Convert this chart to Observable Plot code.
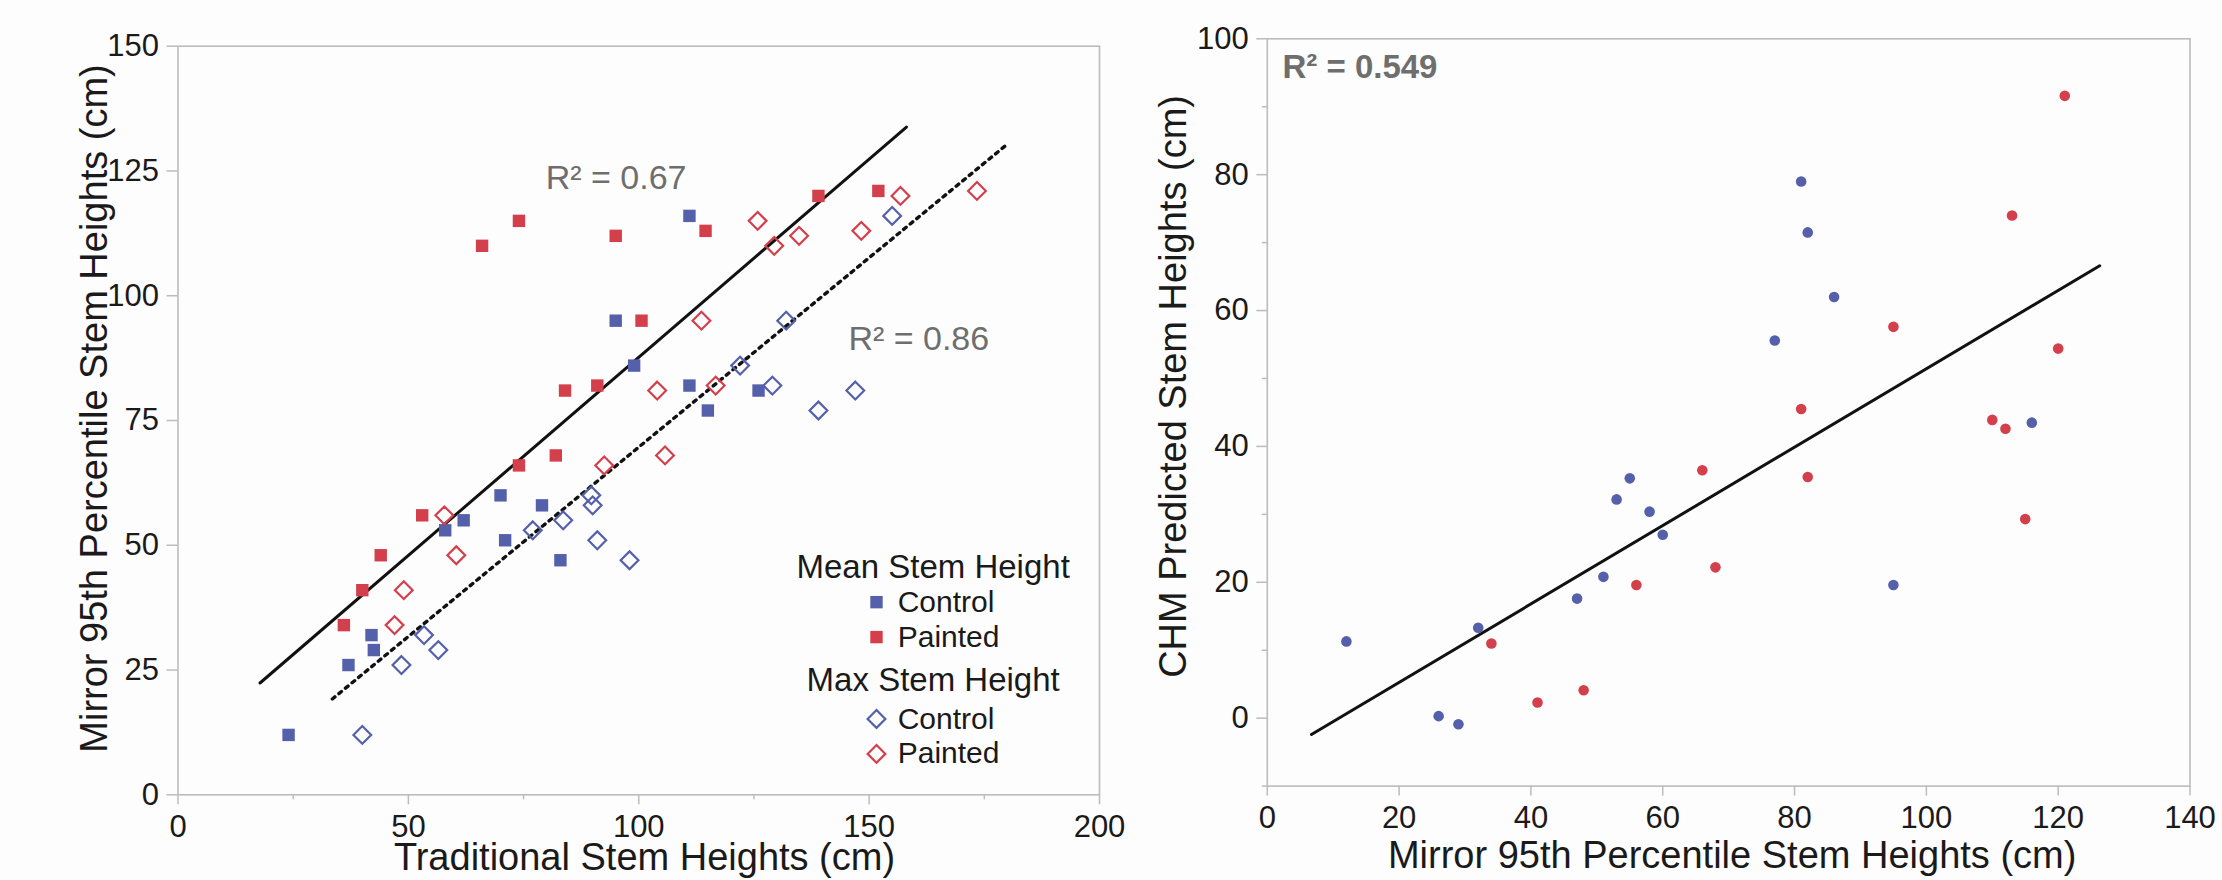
<!DOCTYPE html>
<html><head><meta charset="utf-8">
<script src="https://cdn.jsdelivr.net/npm/d3@7"></script>
<script src="https://cdn.jsdelivr.net/npm/@observablehq/plot@0.6"></script>
<style>
html,body{margin:0;padding:0;background:#fefdfd;}
#fig{position:relative;width:2222px;height:880px;overflow:hidden;background:#fefdfd;}
#left{position:absolute;left:0;top:0;}
#right{position:absolute;left:1130px;top:0;}
</style></head><body>
<div id="fig"><div id="left"></div><div id="right"></div></div>
<script>
// ---------- Left panel data: Traditional (x) vs Mirror 95th percentile (y) ----------
const meanControlTrad   = [24, 37, 42, 42.5, 58, 62, 70, 71, 79, 83, 95, 99, 111, 111, 115, 126];
const meanControlMirror = [12, 26, 32, 29, 53, 55, 60, 51, 58, 47, 95, 86, 116, 82, 77, 81];
const meanPaintedTrad   = [36, 40, 44, 53, 66, 74, 74, 82, 84, 91, 95, 100.6, 114.5, 139, 152];
const meanPaintedMirror = [34, 41, 48, 56, 110, 115, 66, 68, 81, 82, 112, 95, 113, 120, 121];
const maxControlTrad    = [40, 48.5, 53.4, 56.5, 77, 83.6, 89.7, 91, 90, 98, 132, 122, 155, 129, 139, 147];
const maxControlMirror  = meanControlMirror;
const maxPaintedTrad    = [47, 49, 60.4, 57.8, 129.4, 125.8, 92.5, 105.7, 104, 116.7, 134.8, 113.6, 148.3, 156.8, 173.4];
const maxPaintedMirror  = meanPaintedMirror;
// trend line end points (data units)
const meanFitX = [17.8, 158.1], meanFitY = [22.4, 133.8];
const maxFitX  = [33.5, 179.9], maxFitY  = [19.2, 130.3];
const leftXTicks = [0, 50, 100, 150, 200];
const leftXMinor = [25, 75, 125, 175];
const leftYTicks = [0, 25, 50, 75, 100, 125, 150];
const r2Mean = "R² = 0.67", r2Max = "R² = 0.86";
const legendHeaders = ["Mean Stem Height", "Max Stem Height"];
const legendItems = ["Control", "Painted"];

// ---------- Right panel data: Mirror (x) vs CHM predicted (y) ----------
const controlMirror = [12, 26, 29, 32, 47, 51, 53, 55, 58, 60, 77, 81, 82, 86, 95, 116];
const controlCHM    = [11.3, 0.3, -0.9, 13.3, 17.6, 20.8, 32.2, 35.3, 30.4, 27, 55.6, 79, 71.5, 62, 19.6, 43.5];
const paintedMirror = [34, 41, 48, 56, 66, 68, 81, 82, 95, 110, 112, 113, 115, 120, 121];
const paintedCHM    = [11, 2.3, 4.1, 19.6, 36.5, 22.2, 45.5, 35.5, 57.6, 43.9, 42.6, 74, 29.3, 54.4, 91.6];
const chmFitX = [6.7, 126.3], chmFitY = [-2.4, 66.6];
const rightXTicks = [0, 20, 40, 60, 80, 100, 120, 140];
const rightYTicks = [0, 20, 40, 60, 80, 100];
const rightYMinor = [-10, 10, 30, 50, 70, 90];
const r2Chm = "R² = 0.549";

// ---------- styling ----------
const blue = "#5560ab", red = "#d3404c", axisGray = "#bcbcbc", ink = "#1a1a1a", note = "#6e6e6e";
const font = '"Liberation Sans", Arial, Helvetica, sans-serif';
const tickFont = 31;
const zip = (xs, ys) => xs.map((x, i) => ({x, y: ys[i]}));

const left = Plot.plot({
  width: 1130, height: 880,
  marginLeft: 177.5, marginRight: 31, marginTop: 45.7, marginBottom: 85.7,
  x: {domain: [0, 200]}, y: {domain: [0, 150]},
  style: {background: "transparent", fontFamily: font, fontSize: "31px", color: ink, overflow: "visible"},
  marks: [
    Plot.axisY({ticks: leftYTicks, tickSize: 11, tickPadding: 8, stroke: axisGray, strokeWidth: 1.5, fill: ink, fontSize: tickFont, label: null}),
    Plot.axisX({ticks: leftXTicks, tickSize: 10, tickPadding: 10, stroke: axisGray, strokeWidth: 1.5, fill: ink, fontSize: tickFont, label: null}),
    Plot.axisX({ticks: leftXMinor, tickSize: 5, tickFormat: () => "", stroke: axisGray, strokeWidth: 1.5, label: null}),
    Plot.frame({stroke: axisGray, strokeWidth: 1.6}),
    Plot.line(zip(meanFitX, meanFitY), {x: "x", y: "y", stroke: "#111", strokeWidth: 3}),
    Plot.line(zip(maxFitX, maxFitY), {x: "x", y: "y", stroke: "#111", strokeWidth: 3.4, strokeDasharray: "3.3,5.2"}),
    Plot.dot(zip(meanControlTrad, meanControlMirror), {x: "x", y: "y", symbol: "square", r: 7, fill: blue}),
    Plot.dot(zip(meanPaintedTrad, meanPaintedMirror), {x: "x", y: "y", symbol: "square", r: 7, fill: red}),
    Plot.dot(zip(maxControlTrad, maxControlMirror), {x: "x", y: "y", symbol: "diamond2", r: 8, fill: "none", stroke: blue, strokeWidth: 2.2}),
    Plot.dot(zip(maxPaintedTrad, maxPaintedMirror), {x: "x", y: "y", symbol: "diamond2", r: 8, fill: "none", stroke: red, strokeWidth: 2.2}),
    // R² annotations
    Plot.text([{x: 79.8, y: 123.6, t: r2Mean}, {x: 145.5, y: 91.4, t: r2Max}], {x: "x", y: "y", text: "t", textAnchor: "start", fontSize: 34, fill: note}),
    // legend
    Plot.text([{x: 163.9, y: 45.6, t: legendHeaders[0]}, {x: 163.9, y: 22.9, t: legendHeaders[1]}], {x: "x", y: "y", text: "t", textAnchor: "middle", fontSize: 33, fill: ink}),
    Plot.text([{x: 156.2, y: 38.6, t: legendItems[0]}, {x: 156.2, y: 31.6, t: legendItems[1]}, {x: 156.2, y: 15.2, t: legendItems[0]}, {x: 156.2, y: 8.2, t: legendItems[1]}], {x: "x", y: "y", text: "t", textAnchor: "start", fontSize: 30, fill: ink}),
    Plot.dot([{x: 151.6, y: 38.6, c: blue}, {x: 151.6, y: 31.6, c: red}], {x: "x", y: "y", symbol: "square", r: 7, fill: "c"}),
    Plot.dot([{x: 151.6, y: 15.2, c: blue}, {x: 151.6, y: 8.2, c: red}], {x: "x", y: "y", symbol: "diamond2", r: 8, fill: "none", stroke: "c", strokeWidth: 2.2}),
    // axis titles
    Plot.text(["Traditional Stem Heights (cm)"], {frameAnchor: "bottom", textAnchor: "middle", lineAnchor: "middle", dx: 5.75, dy: 63.5, fontSize: 38, fill: ink}),
    Plot.text(["Mirror 95th Percentile Stem Heights (cm)"], {frameAnchor: "left", textAnchor: "middle", lineAnchor: "middle", rotate: -90, dx: -82.7, dy: -12, fontSize: 38, fill: ink})
  ]
});
document.getElementById("left").append(left);

const right = Plot.plot({
  width: 1092, height: 880,
  marginLeft: 136.8, marginRight: 32.5, marginTop: 38.3, marginBottom: 94.4,
  x: {domain: [0, 140]}, y: {domain: [-10, 100]},
  style: {background: "transparent", fontFamily: font, fontSize: "31px", color: ink, overflow: "visible"},
  marks: [
    Plot.axisY({ticks: rightYTicks, tickSize: 10.5, tickPadding: 8, stroke: axisGray, strokeWidth: 1.5, fill: ink, fontSize: tickFont, label: null}),
    Plot.axisY({ticks: rightYMinor, tickSize: 5, tickFormat: () => "", stroke: axisGray, strokeWidth: 1.5, label: null}),
    Plot.axisX({ticks: rightXTicks, tickSize: 10, tickPadding: 10, stroke: axisGray, strokeWidth: 1.5, fill: ink, fontSize: tickFont, label: null}),
    Plot.frame({stroke: axisGray, strokeWidth: 1.6}),
    Plot.line(zip(chmFitX, chmFitY), {x: "x", y: "y", stroke: "#111", strokeWidth: 3}),
    Plot.dot(zip(controlMirror, controlCHM), {x: "x", y: "y", r: 5.3, fill: blue}),
    Plot.dot(zip(paintedMirror, paintedCHM), {x: "x", y: "y", r: 5.3, fill: red}),
    Plot.text([{x: 2.3, y: 95.8, t: r2Chm}], {x: "x", y: "y", text: "t", textAnchor: "start", fontSize: 33, fontWeight: "bold", fill: note}),
    Plot.text(["Mirror 95th Percentile Stem Heights (cm)"], {frameAnchor: "bottom", textAnchor: "middle", lineAnchor: "middle", dx: 3.5, dy: 70.2, fontSize: 38, fill: ink}),
    Plot.text(["CHM Predicted Stem Heights (cm)"], {frameAnchor: "left", textAnchor: "middle", lineAnchor: "middle", rotate: -90, dx: -93, dy: -26, fontSize: 38, fill: ink})
  ]
});
document.getElementById("right").append(right);
</script>
</body></html>
